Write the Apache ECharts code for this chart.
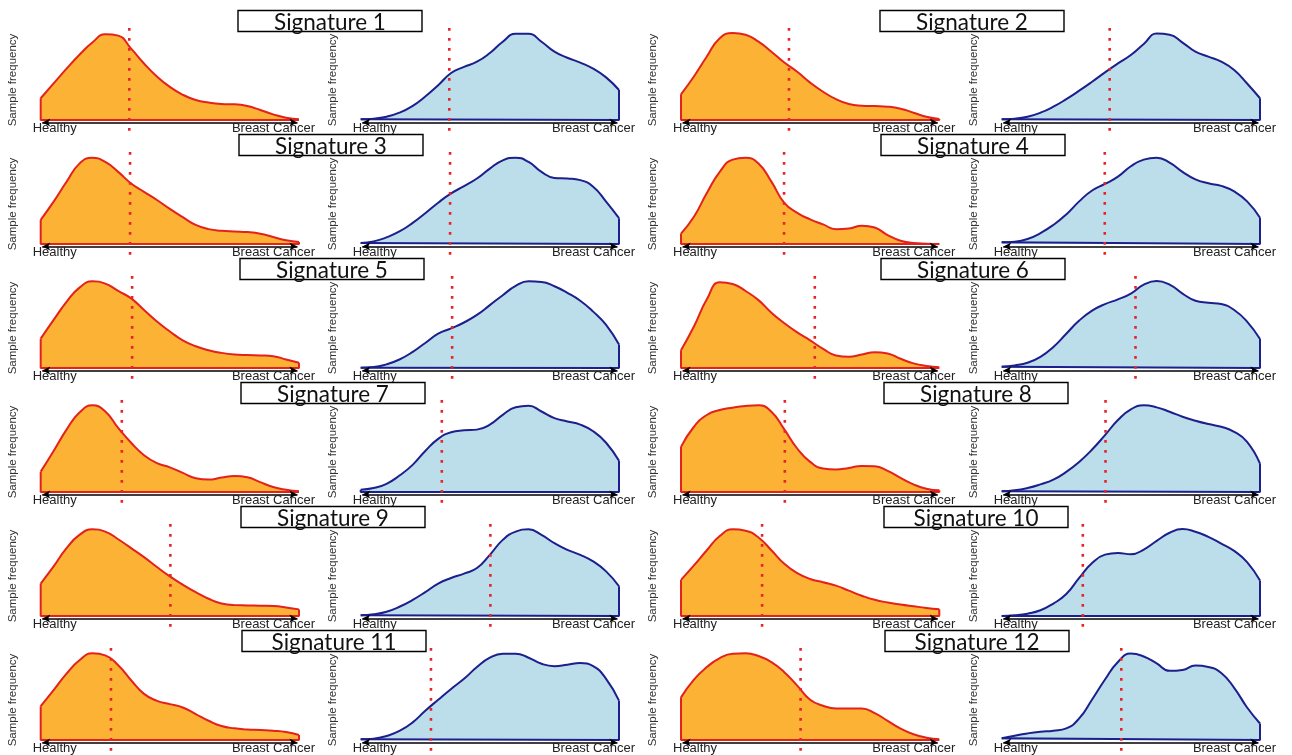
<!DOCTYPE html>
<html>
<head>
<meta charset="utf-8">
<script src="https://cdn.jsdelivr.net/npm/echarts@6/dist/echarts.min.js"></script>
<style>
html,body{margin:0;padding:0;background:#fff;}
#chart{width:1292px;height:755px;}
</style>
</head>
<body>
<div id="chart"></div>
<script>
// ---- data ----
const xs = [0,0.05,0.1,0.15,0.2,0.25,0.3,0.35,0.4,0.45,0.5,0.55,0.6,0.65,0.7,0.75,0.8,0.85,0.9,0.95,1];
const titles = ['Signature 1','Signature 2','Signature 3','Signature 4','Signature 5','Signature 6',
                'Signature 7','Signature 8','Signature 9','Signature 10','Signature 11','Signature 12'];
const leftLabel = 'Healthy';
const rightLabel = 'Breast Cancer';
const yLabel = 'Sample frequency';
const thresholds = [0.343,0.418,0.346,0.399,0.354,0.518,0.314,0.402,0.502,0.314,0.272,0.463];

const healthy1 = [25,42,59,75,89,98.5,97,82,65,50,38,29,23,20,18.4,18,16,11.5,6.5,2.7,0.8];
const cancer1  = [0.8,1.5,3.8,8.4,16,27,40,54,61,67,77,90,99,99,90,78.5,71.6,66,59,49,34.5];
const healthy2 = [29.5,50,73,94,100,98,90,78.5,66,55.5,43,32.5,24,18.4,16.5,16,15.3,13,8.4,3.8,1.1];
const cancer2  = [0.8,1.5,3.8,8.4,15.3,24,33.7,44,54.8,65,74.7,87.4,99.3,98,89,78.5,72.8,67,57.5,42,25];
const healthy3 = [27.8,48.7,71.5,92.4,99.2,94.3,82.9,69.6,60,50.6,40.3,30.8,22,17.1,15.2,14.4,13.7,11.8,8,4.2,2.3];
const cancer3  = [1.1,3,7.6,14.4,24,35.4,47.5,58.2,66.5,75.3,86.7,96.2,99.2,94.3,82.9,76,75.3,73.4,65.8,48.7,29.7];
const healthy4 = [12,31.3,58.5,83,97,99.2,92.5,71.7,47.2,35.8,28.3,22.6,17,17.7,21.1,18.9,10.2,3.8,1.1,0.4,0];
const cancer4  = [1.9,2.6,5.7,12.5,21.9,34,49,61.5,69,77.4,89.4,97,99.2,93.6,83,74.3,69.8,66.8,60.4,49,30.2];
const healthy5 = [33.7,55.3,76,92.4,99.6,97,88.6,80,66.7,53.4,42,31.8,25,20.5,17.4,15.5,14.8,14.4,13.6,9.8,6];
const cancer5  = [0.4,1.1,4.2,9.8,18.2,28.8,39.4,45.5,52.3,61,72.3,83.7,94.3,99.6,98.9,94,86.4,77.3,64.8,49.6,26.9];
const healthy6 = [20.5,47.7,79,98.5,96.5,88.5,78,63.6,51.5,40.9,31.8,22,14.4,12.9,15.5,18.2,16.7,10.6,5.3,2.3,0.8];
const cancer6  = [1.5,3,6,12.9,24.2,39.4,54.5,65.9,73.5,78.8,85.6,95.8,100,95.8,85.6,77.3,75,73.5,66.7,53.4,33.3];
const healthy7 = [23.4,47.2,71.7,91.3,99.6,92.5,73.6,56.6,42.3,33.2,28.3,21.9,15.8,14.3,16.6,18.5,17,11.3,5.7,2.6,0.8];
const cancer7  = [2.6,4.5,9.4,18.9,30.9,47.2,61.1,68.7,70.9,71.7,77.4,88.7,97.4,99.2,92.5,84.9,81.1,77.4,69.8,56.6,35.8];
const healthy8 = [51.9,75,88.5,94.2,96.9,98.8,99.6,92.3,71.9,50,34.6,26.9,25.8,27.7,30,29.6,24.2,16.2,8.8,3.8,1.9];
const cancer8  = [0.8,1.9,4.6,8.8,14.2,23.1,34.6,48.8,65.4,82.7,95,99.6,97.3,92.3,86.5,81.9,78.1,75,69.2,57.7,32.7];
const healthy9 = [37.3,57,78,93.2,99.6,97,88.2,78,67.7,56.3,45.6,36.1,27.4,19.8,14.4,12.5,12.2,11.8,11.4,9.9,7.6];
const cancer9  = [0.8,1.9,4.9,10.6,18.3,27.4,37.3,43.7,48.7,55.1,70.3,87.5,97,99.6,93.2,83.7,76,70.3,62.7,51.3,34.2];
const healthy10 = [41.5,58.1,75.6,91.9,99.6,98,90.3,75.6,60,49.2,42.6,38.8,34.9,29.1,23.3,18.6,15.5,13.2,11.2,9.3,7.8];
const cancer10  = [0,0.8,2.7,6.6,14.3,25.2,43.8,60.9,70.5,72.5,70.9,76.4,86.4,95.7,100,96.9,91,83.3,74.8,62,40.7];
const healthy11 = [38.9,57.3,76.3,91.6,99.6,97.3,85.9,68.7,53,45,41.2,37.4,29.8,22.1,16,13.4,12.2,11.5,10.7,9.2,5.7];
const cancer11  = [0.8,1.5,4.6,10.4,20,33.6,46.3,58.7,70.3,83.8,94.6,99.2,99.2,94.6,87.6,84.9,86.5,88.4,84.9,70.3,45.2];
const healthy12 = [49,69.5,83.8,94.2,99.2,99.6,96.5,89.6,78,62.5,46.3,39.4,36.3,36.3,36.3,30.9,22,13.1,6.6,2.7,0.8];
const cancer12  = [1.9,5,7.6,9.5,10.7,13.4,24.8,46.6,69.5,89.7,99.4,96,88,79.5,80.5,85.5,84,77,60,37.4,19];

const healthySets = [healthy1,healthy2,healthy3,healthy4,healthy5,healthy6,healthy7,healthy8,healthy9,healthy10,healthy11,healthy12];
const cancerSets  = [cancer1,cancer2,cancer3,cancer4,cancer5,cancer6,cancer7,cancer8,cancer9,cancer10,cancer11,cancer12];

// ---- layout / style ----
const colLeft = [40.7, 360.7, 681, 1001.7];
const panelW = 258.3;
const rowStep = 124;
const yMin = -15, yMax = 110, pxPerUnit = 0.87;
const gridTop0 = 33 - (yMax - 100) * pxPerUnit;
const gridH = (yMax - yMin) * pxPerUnit;
const boxLeftL = [238,239,240,241,241,242];
const boxLeftR = [880,881,881,884,884,885];
const styles = {
  healthy: {line:'#e3221c', fill:'#fbb235'},
  cancer:  {line:'#1c1f8c', fill:'#bcdeea'}
};

const grids = [], xAxes = [], yAxes = [], series = [], graphics = [];
let gi = 0;
function addPanel(values, kind, col, row, thr) {
  const st = styles[kind];
  grids.push({left: colLeft[col], top: gridTop0 + row*rowStep, width: panelW, height: gridH, containLabel:false});
  xAxes.push({gridIndex: gi, type:'value', min:0, max:1, show:false});
  yAxes.push({gridIndex: gi, type:'value', min:yMin, max:yMax, show:false});
  const pts = xs.map((x,i)=>[x, values[i]]);
  series.push({
    type:'line', xAxisIndex:gi, yAxisIndex:gi, data:pts, smooth:0.5,
    symbol:'none', lineStyle:{color:st.line, width:2}, areaStyle:{color:st.fill, opacity:1}, z:2, silent:true
  });
  const n = values.length - 1;
  series.push({
    type:'line', xAxisIndex:gi, yAxisIndex:gi,
    data:[[0, values[0]],[0,0],[1,0],[1, values[n]]],
    symbol:'none', lineStyle:{color:st.line, width:2}, z:3, silent:true,
    markLine:{
      silent:true, symbol:['arrow','arrow'], symbolSize:[6,8], label:{show:false},
      lineStyle:{color:'#000', width:1.5, type:'solid'},
      emphasis:{disabled:true},
      data:[[{coord:[0.006,-3]},{coord:[0.994,-3]}]]
    }
  });
  series.push({
    type:'line', xAxisIndex:gi, yAxisIndex:gi,
    data:[[thr,105.7],[thr,-13.8]],
    symbol:'none', lineStyle:{color:'#e8242b', width:2.6, type:[2.6,7.4], cap:'butt'}, z:4, silent:true
  });
  const L = colLeft[col];
  const baseY = row*rowStep;
  graphics.push({type:'text', z:10, style:{text:leftLabel, x:L-8, y:128+baseY, fill:'#222',
    font:'13px "Liberation Sans", Arial, sans-serif', align:'left', verticalAlign:'middle'}});
  graphics.push({type:'text', z:10, style:{text:rightLabel, x:L+panelW+16, y:128+baseY, fill:'#222',
    font:'13px "Liberation Sans", Arial, sans-serif', align:'right', verticalAlign:'middle'}});
  graphics.push({type:'text', z:10, x:L-28, y:80+baseY, rotation:Math.PI/2,
    style:{text:yLabel, x:0, y:0, fill:'#333', font:'11.5px "Liberation Sans", Arial, sans-serif', align:'center', verticalAlign:'middle'}});
  gi++;
}

for (let s = 0; s < titles.length; s++) {
  const row = Math.floor(s/2), side = s % 2;
  addPanel(healthySets[s], 'healthy', side*2, row, thresholds[s]);
  addPanel(cancerSets[s], 'cancer', side*2+1, row, thresholds[s]);
  const bx = side === 0 ? boxLeftL[row] : boxLeftR[row];
  const by = 10.5 + row*rowStep;
  graphics.push({type:'rect', z:20, shape:{x:bx, y:by, width:184, height:21},
    style:{fill:'#fff', stroke:'#000', lineWidth:1.4}});
  graphics.push({type:'text', z:21, style:{text:titles[s], x:bx+92, y:by+12, fill:'#111',
    font:'22.5px Lato, "Open Sans", sans-serif', align:'center', verticalAlign:'middle'}});
}

const chart = echarts.init(document.getElementById('chart'), null, {renderer:'canvas'});
chart.setOption({
  animation:false,
  backgroundColor:'#fff',
  grid:grids, xAxis:xAxes, yAxis:yAxes, series:series, graphic:graphics
});
</script>
</body>
</html>
